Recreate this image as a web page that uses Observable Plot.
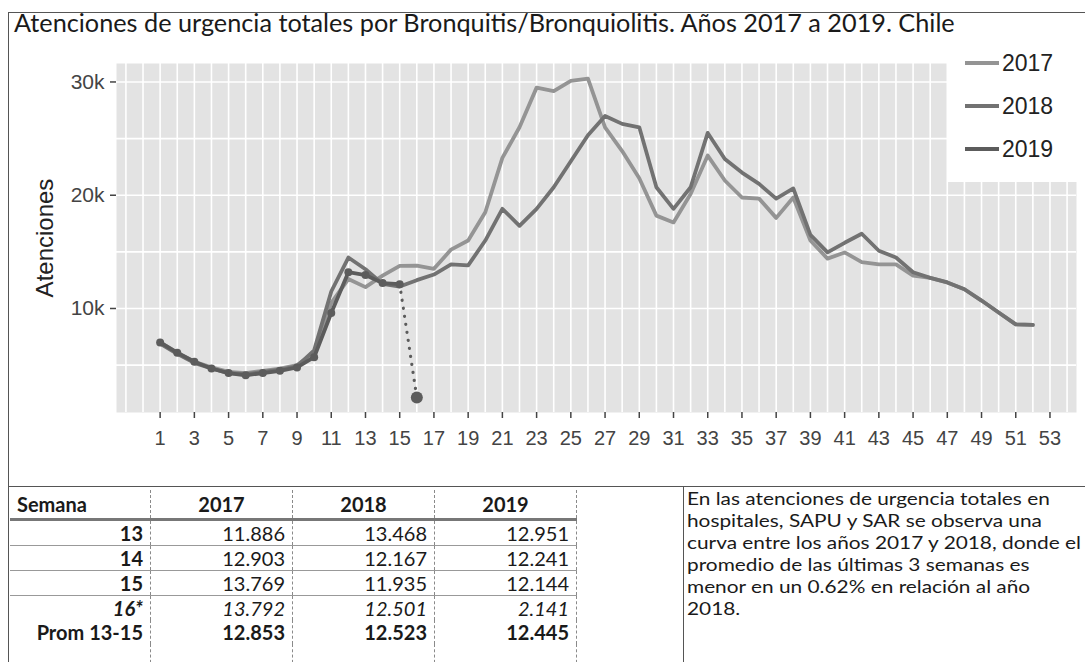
<!DOCTYPE html>
<html>
<head>
<meta charset="utf-8">
<script src="https://cdn.jsdelivr.net/npm/d3@7"></script>
<script src="https://cdn.jsdelivr.net/npm/@observablehq/plot@0.6"></script>
<style>
html, body { margin: 0; padding: 0; background: #fff; }
#page { position: relative; width: 1085px; height: 662px; overflow: hidden; font-family: Lato, "Open Sans", sans-serif; color: #1a1a1a; }
.hl { position: absolute; height: 1px; background: #555; }
.vl { position: absolute; width: 1px; background: #555; }
#title { position: absolute; left: 14px; top: 8px; font-size: 22px; white-space: nowrap; line-height: 28px; }
#chart { position: absolute; left: 0; top: 40px; }
#chart svg { overflow: visible; }
g[aria-label="y-axis label"] text { font-size: 24px; fill: #222; }
#legend { position: absolute; left: 947px; top: 40px; width: 130px; height: 142px; background: #fff; font-family: "Liberation Sans", Arial, sans-serif; }
.li { position: absolute; left: 0; height: 30px; width: 130px; }
.sw { position: absolute; left: 18px; top: 13px; width: 34px; height: 4px; }
.lt { position: absolute; left: 55px; top: 0; font-size: 23px; line-height: 30px; color: #222; }
#tbl { position: absolute; left: 10px; top: 490px; border-collapse: collapse; font-size: 20px; }
#tbl td { padding: 0 7px; height: 24px; line-height: 24px; border-right: 1px dashed #8a8a8a; white-space: nowrap; }
#tbl tr.hd td { height: 28px; line-height: 28px; font-weight: bold; border-bottom: 3px solid #777; }
#tbl tr.rb td { border-bottom: 1px solid #999; }
#tbl td.c0 { width: 126px; }
#tbl td.cv { width: 127px; text-align: right; }
#tbl tr.hd td.cv { text-align: center; }
#tbl td.lab { text-align: right; font-weight: bold; }
#tbl tr.hd td.lab { text-align: left; }
#tbl tr.it td { font-style: italic; }
#tbl tr.bd td { font-weight: bold; }
#tbl tr.pad td { height: 40px; }
#note { position: absolute; left: 687px; top: 487px; font-size: 18px; line-height: 22px; transform-origin: 0 0; }
#note div { white-space: nowrap; }
</style>
</head>
<body>
<div id="page">
  <div class="hl" style="left:8px; top:12px; width:1077px;"></div>
  <div class="vl" style="left:8px; top:12px; height:650px;"></div>
  <div id="title"></div>
  <div id="chart"></div>
  <div id="legend"></div>
  <div class="hl" style="left:8px; top:486px; width:1077px;"></div>
  <table id="tbl"></table>
  <div class="vl" style="left:683px; top:486px; height:176px;"></div>
  <div id="note"></div>
</div>
<script>
// ---------------- data ----------------
const titleText = "Atenciones de urgencia totales por Bronquitis/Bronquiolitis. Años 2017 a 2019. Chile";
const yLabel = "Atenciones";
const years = ["2017", "2018", "2019"];
const weeks = [1,2,3,4,5,6,7,8,9,10,11,12,13,14,15,16,17,18,19,20,21,22,23,24,25,26,
               27,28,29,30,31,32,33,34,35,36,37,38,39,40,41,42,43,44,45,46,47,48,49,50,51,52];
const values2017 = [7000,6100,5300,4800,4400,4300,4500,4700,5000,6100,10500,12600,11886,12903,13769,13792,
                    13500,15200,16000,18500,23300,26000,29500,29200,30100,30300,26000,23900,21500,18200,17600,20100,
                    23500,21300,19800,19700,18000,19800,16000,14400,14950,14100,13900,13900,12900,12700,12300,11700,
                    10700,9650,8600,8550];
const values2018 = [6900,6000,5200,4700,4300,4200,4400,4600,4900,6300,11500,14500,13468,12167,11935,12501,
                    13000,13900,13800,16000,18800,17300,18800,20700,23000,25300,27000,26300,26000,20700,18800,20700,
                    25500,23200,22000,21000,19700,20600,16500,14950,15800,16600,15100,14500,13200,12700,12300,11700,
                    10700,9650,8600,8550];
const values2019 = [7000,6100,5300,4700,4300,4100,4300,4500,4800,5700,9600,13200,12951,12241,12144,2141];
const xTicks = [1,3,5,7,9,11,13,15,17,19,21,23,25,27,29,31,33,35,37,39,41,43,45,47,49,51,53];
const yTicks = [10000, 20000, 30000];
const yGrid = [5000, 10000, 15000, 20000, 25000, 30000];

const tableHeader = ["Semana", "2017", "2018", "2019"];
const tableLabels = ["13", "14", "15", "16*", "Prom 13-15"];
const table2017 = ["11.886", "12.903", "13.769", "13.792", "12.853"];
const table2018 = ["13.468", "12.167", "11.935", "12.501", "12.523"];
const table2019 = ["12.951", "12.241", "12.144", "2.141", "12.445"];

const noteLines = [
  "En las atenciones de urgencia totales en",
  "hospitales, SAPU y SAR se observa una",
  "curva entre los años 2017 y 2018, donde el",
  "promedio de las últimas 3 semanas es",
  "menor en un 0.62% en relación al año",
  "2018."
];

const colors = {"2017": "#949494", "2018": "#727272", "2019": "#5c5c5c"};

// ---------------- build ----------------
const toRows = (vals) => vals.map((v, i) => ({week: weeks[i], value: v}));
const d2017 = toRows(values2017);
const d2018 = toRows(values2018);
const d2019 = toRows(values2019);
const lastWeek2019 = d2019[d2019.length - 1].week;
const solid2019 = d2019.filter(d => d.week < lastWeek2019);
const dotted2019 = d2019.filter(d => d.week >= lastWeek2019 - 1);
const end2019 = d2019.filter(d => d.week === lastWeek2019);

const gridWeeks = d3.range(-1, 55);

const chart = Plot.plot({
  width: 1085,
  height: 430,
  marginLeft: 116,
  marginRight: 9,
  marginTop: 23,
  marginBottom: 58,
  x: {domain: [-1.55, 54.55]},
  y: {domain: [817, 31630]},
  style: {fontFamily: "'Liberation Sans', Arial, sans-serif", background: "transparent", color: "#444"},
  marks: [
    Plot.frame({fill: "#e3e3e3"}),
    Plot.ruleX(gridWeeks, {stroke: "#fff", strokeWidth: 1.6}),
    Plot.ruleY(yGrid, {stroke: "#fff", strokeWidth: 1.6}),
    Plot.line(d2017, {x: "week", y: "value", stroke: colors["2017"], strokeWidth: 3.8, strokeLinejoin: "round"}),
    Plot.line(d2018, {x: "week", y: "value", stroke: colors["2018"], strokeWidth: 3.8, strokeLinejoin: "round"}),
    Plot.line(solid2019, {x: "week", y: "value", stroke: colors["2019"], strokeWidth: 3.8, strokeLinejoin: "round"}),
    Plot.line(dotted2019, {x: "week", y: "value", stroke: colors["2019"], strokeWidth: 3.2, strokeDasharray: "0.1,8", strokeLinecap: "round"}),
    Plot.dot(solid2019, {x: "week", y: "value", r: 4, fill: colors["2019"]}),
    Plot.dot(end2019, {x: "week", y: "value", r: 6, fill: colors["2019"]}),
    Plot.axisX({ticks: xTicks, tickSize: 6, tickPadding: 12, fontSize: 20, label: null, stroke: "#444", strokeWidth: 1.5}),
    Plot.axisY({ticks: yTicks, tickFormat: d => (d / 1000) + "k", tickSize: 6, tickPadding: 6, fontSize: 21,
                label: yLabel, labelAnchor: "center", labelOffset: 81, labelArrow: "none", stroke: "#444", strokeWidth: 1.5})
  ]
});
document.getElementById("chart").appendChild(chart);

// title
const titleEl = document.getElementById("title");
titleEl.textContent = titleText;

// legend
const legend = document.getElementById("legend");
years.forEach((yr, i) => {
  const item = document.createElement("div");
  item.className = "li";
  item.style.top = (8 + i * 43) + "px";
  const sw = document.createElement("div");
  sw.className = "sw";
  sw.style.background = colors[yr];
  const t = document.createElement("div");
  t.className = "lt";
  t.textContent = yr;
  item.appendChild(sw); item.appendChild(t);
  legend.appendChild(item);
});

// table
const tbl = document.getElementById("tbl");
const mkRow = (cells, cls) => {
  const tr = document.createElement("tr");
  if (cls) tr.className = cls;
  cells.forEach((c, j) => {
    const td = document.createElement("td");
    td.textContent = c;
    td.className = j === 0 ? "c0 lab" : "cv";
    tr.appendChild(td);
  });
  tbl.appendChild(tr);
};
mkRow(tableHeader, "hd");
const rowClasses = ["rb", "rb", "rb", "it", "bd"];
tableLabels.forEach((lab, i) => mkRow([lab, table2017[i], table2018[i], table2019[i]], rowClasses[i]));
mkRow(["", "", "", ""], "pad");

// note
const note = document.getElementById("note");
noteLines.forEach(l => {
  const d = document.createElement("div");
  const s = document.createElement("span");
  s.textContent = l;
  d.appendChild(s);
  note.appendChild(d);
});

// fit text widths to the reference
function fitWidth(el, target) {
  const w = el.getBoundingClientRect().width;
  const fs = parseFloat(getComputedStyle(el).fontSize);
  return fs * target / w;
}
titleEl.style.fontSize = fitWidth(titleEl, 941) + "px";
const refSpan = note.children[2].firstChild;
const sx = 394 / refSpan.getBoundingClientRect().width;
note.style.transform = "scaleX(" + sx + ")";
</script>
</body>
</html>
